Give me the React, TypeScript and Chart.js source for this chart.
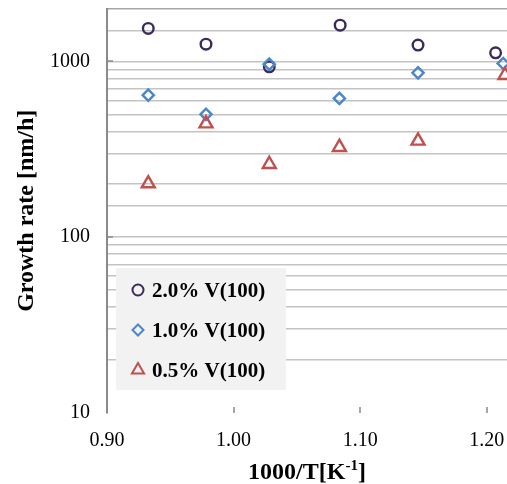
import React, { useEffect, useRef } from "react";
import { Chart, registerables } from "chart.js";

Chart.register(...registerables);

// 1000/T [K^-1] for each series
const invTemp20 = [0.9326, 0.9782, 1.0282, 1.0842, 1.1457, 1.207];
const invTemp10 = [0.9326, 0.9782, 1.0282, 1.0836, 1.1457, 1.213];
const invTemp05 = [0.9326, 0.9782, 1.0282, 1.0836, 1.1457, 1.2144];

// growth rate [nm/h]
const rate20 = [1540, 1254, 932, 1607, 1238, 1119];
const rate10 = [643, 500, 965, 616, 861, 974];
const rate05 = [202, 443, 260, 325, 353, 835];

const seriesNames = ["2.0% V(100)", "1.0% V(100)", "0.5% V(100)"];
const seriesColors = ["#3b2a5a", "#4a86c8", "#c0504d"];

const xTicks = [0.9, 1.0, 1.1, 1.2];
const yTickLabels = [10, 100, 1000];

const X_MIN = 0.9;
const X_MAX = 1.216;
const Y_MIN = 10;
const Y_MAX = 2000;

const FONT = "'Liberation Serif', 'Times New Roman', serif";
const AXIS_GRAY = "#8a8a8a";
const GRID_GRAY = "#c4c4c4";

function pts(xs: number[], ys: number[]) {
  return xs.map((x, i) => ({ x, y: ys[i] }));
}

function drawMarker(ctx: CanvasRenderingContext2D, kind: string, x: number, y: number, r: number) {
  ctx.beginPath();
  if (kind === "circle") {
    ctx.arc(x, y, r, 0, Math.PI * 2);
  } else if (kind === "rectRot") {
    ctx.moveTo(x, y - r);
    ctx.lineTo(x + r, y);
    ctx.lineTo(x, y + r);
    ctx.lineTo(x - r, y);
    ctx.closePath();
  } else {
    ctx.moveTo(x, y - r);
    ctx.lineTo(x + r * 0.866, y + r * 0.5);
    ctx.lineTo(x - r * 0.866, y + r * 0.5);
    ctx.closePath();
  }
  ctx.stroke();
}

const decorPlugin = {
  id: "decor",
  afterDraw(chart: any) {
    const ctx: CanvasRenderingContext2D = chart.ctx;
    const area = chart.chartArea;
    const xs = chart.scales.x;
    const ys = chart.scales.y;
    ctx.save();

    // inward tick marks
    ctx.strokeStyle = AXIS_GRAY;
    ctx.lineWidth = 1.5;
    xTicks.slice(1).forEach((v) => {
      const px = Math.round(xs.getPixelForValue(v));
      ctx.beginPath();
      ctx.moveTo(px, area.bottom);
      ctx.lineTo(px, area.bottom - 6);
      ctx.stroke();
    });
    yTickLabels.slice(1).forEach((v) => {
      const py = Math.round(ys.getPixelForValue(v));
      ctx.beginPath();
      ctx.moveTo(area.left, py);
      ctx.lineTo(area.left + 6, py);
      ctx.stroke();
    });

    // legend
    const lx = 116, ly = 268, lw = 170, lh = 122;
    ctx.fillStyle = "#f2f2f2";
    ctx.fillRect(lx, ly, lw, lh);
    const kinds = ["circle", "rectRot", "triangle"];
    ctx.font = `bold 21px ${FONT}`;
    ctx.textAlign = "left";
    ctx.textBaseline = "alphabetic";
    seriesNames.forEach((name, i) => {
      const cy = 290 + i * 40;
      ctx.strokeStyle = seriesColors[i];
      ctx.lineWidth = 2;
      drawMarker(ctx, kinds[i], 138, cy, kinds[i] === "triangle" ? 7 : 5.5);
      ctx.fillStyle = "#000";
      ctx.fillText(name, 152, cy + 7);
    });

    // y axis title
    ctx.fillStyle = "#000";
    ctx.font = `bold 24px ${FONT}`;
    ctx.save();
    ctx.translate(27, (area.top + area.bottom) / 2);
    ctx.rotate(-Math.PI / 2);
    ctx.textAlign = "center";
    ctx.textBaseline = "middle";
    ctx.fillText("Growth rate [nm/h]", 0, 0);
    ctx.restore();

    // x axis title with superscript
    const main1 = "1000/T[K";
    const sup = "-1";
    const main2 = "]";
    ctx.font = `bold 24px ${FONT}`;
    const w1 = ctx.measureText(main1).width;
    const w2 = ctx.measureText(main2).width;
    ctx.font = `bold 15px ${FONT}`;
    const ws = ctx.measureText(sup).width;
    const cx = (area.left + area.right) / 2;
    let sx = cx - (w1 + ws + w2) / 2;
    const base = 479;
    ctx.textAlign = "left";
    ctx.textBaseline = "alphabetic";
    ctx.font = `bold 24px ${FONT}`;
    ctx.fillText(main1, sx, base);
    sx += w1;
    ctx.font = `bold 15px ${FONT}`;
    ctx.fillText(sup, sx, base - 9);
    sx += ws;
    ctx.font = `bold 24px ${FONT}`;
    ctx.fillText(main2, sx, base);

    ctx.restore();
  },
};

export default function App() {
  const canvasRef = useRef<HTMLCanvasElement | null>(null);

  useEffect(() => {
    if (!canvasRef.current) return;
    const chart = new Chart(canvasRef.current, {
      type: "scatter",
      data: {
        datasets: [
          {
            label: seriesNames[0],
            data: pts(invTemp20, rate20),
            pointStyle: "circle",
            pointRadius: 5.3,
            borderColor: seriesColors[0],
            backgroundColor: "transparent",
            pointBorderWidth: 2.4,
            order: 2,
          },
          {
            label: seriesNames[1],
            data: pts(invTemp10, rate10),
            pointStyle: "rectRot",
            pointRadius: 5.6,
            borderColor: seriesColors[1],
            backgroundColor: "transparent",
            pointBorderWidth: 2.4,
            order: 1,
          },
          {
            label: seriesNames[2],
            data: pts(invTemp05, rate05),
            pointStyle: "triangle",
            pointRadius: 7.5,
            borderColor: seriesColors[2],
            backgroundColor: "transparent",
            pointBorderWidth: 2.4,
            order: 0,
          },
        ],
      },
      options: {
        responsive: false,
        animation: false,
        layout: { autoPadding: false, padding: { top: 8.5, right: 0, left: 0, bottom: 0 } },
        plugins: {
          legend: { display: false },
          tooltip: { enabled: false },
        },
        scales: {
          x: {
            type: "linear",
            min: X_MIN,
            max: X_MAX,
            afterBuildTicks: (s: any) => {
              s.ticks = xTicks.map((v) => ({ value: v }));
            },
            afterFit: (s: any) => {
              s.height = 71;
              s.paddingLeft = 0;
              s.paddingRight = 0;
            },
            grid: {
              display: true,
              drawOnChartArea: false,
              drawTicks: true,
              tickLength: 14,
              color: "transparent",
              tickColor: "transparent",
            },
            border: { display: false },
            ticks: {
              padding: 2,
              color: "#000",
              font: { family: FONT, size: 20 },
              autoSkip: false,
              maxRotation: 0,
              callback: (v: any) => Number(v).toFixed(2),
            },
            title: { display: false },
          },
          y: {
            type: "logarithmic",
            min: Y_MIN,
            max: Y_MAX,
            afterFit: (s: any) => {
              s.width = 107;
              s.paddingTop = 0;
              s.paddingBottom = 0;
            },
            grid: {
              drawTicks: false,
              lineWidth: 1.6,
              color: (c: any) => {
                const v = c.tick && c.tick.value;
                if (v === Y_MIN) return "transparent";
                if (v === Y_MAX) return "#a6a6a6";
                return GRID_GRAY;
              },
            },
            border: { display: true, color: AXIS_GRAY, width: 2 },
            ticks: {
              padding: 17,
              color: "#000",
              autoSkip: false,
              font: { family: FONT, size: 20 },
              callback: (v: any) => (yTickLabels.includes(Number(v)) ? String(v) : ""),
            },
            title: { display: false },
          },
        },
      },
      plugins: [decorPlugin],
    });
    return () => chart.destroy();
  }, []);

  return (
    <div style={{ position: "absolute", left: 0, top: 0, width: 507, height: 484, background: "#fff" }}>
      <canvas ref={canvasRef} width={507} height={484} style={{ display: "block" }} />
    </div>
  );
}
